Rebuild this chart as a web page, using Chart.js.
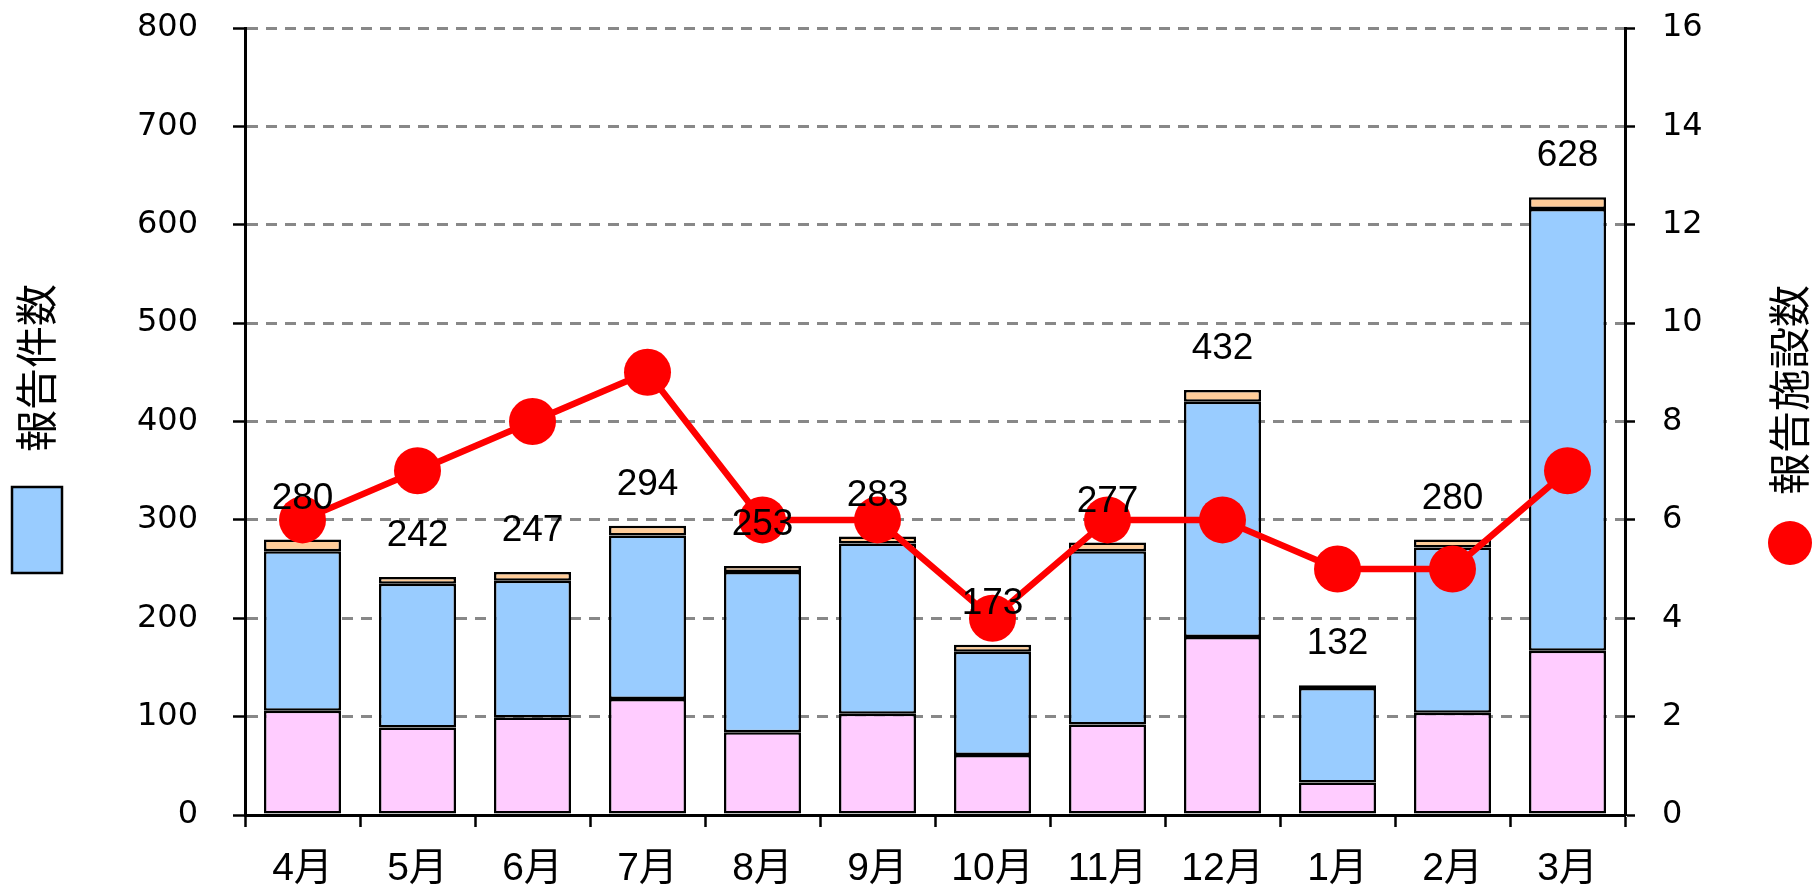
<!DOCTYPE html>
<html lang="ja">
<head>
<meta charset="utf-8">
<title>報告件数・報告施設数</title>
<script src="https://cdn.jsdelivr.net/npm/chart.js@4/dist/chart.umd.min.js"></script>
<style>
  html, body { margin: 0; padding: 0; background: #fff; }
  canvas { display: block; }
</style>
</head>
<body>
<canvas id="c" width="1813" height="886"></canvas>
<script>
// Months of the fiscal year
const months = ['4月', '5月', '6月', '7月', '8月', '9月', '10月', '11月', '12月', '1月', '2月', '3月'];

// Report counts, split into three stacked segments
const segPink   = [106, 89, 99, 118, 84, 103, 61, 92, 181, 33, 104, 167];
const segBlue   = [162, 146, 139, 166, 163, 173, 105, 176, 239, 96, 168, 449];
const segOrange = [12, 7, 9, 10, 6, 7, 7, 9, 12, 3, 8, 12];

// Number of reporting facilities (right axis)
const facilities = [6, 7, 8, 9, 6, 6, 4, 6, 6, 5, 5, 7];

// Axis tick ranges
const leftMax = 800, leftStep = 100;
const rightMax = 16, rightStep = 2;

const totals = months.map((_, i) => segPink[i] + segBlue[i] + segOrange[i]);

const NUM_FONT = "'Liberation Sans', 'Noto Sans CJK JP', sans-serif";
const TICK_FONT = "'DejaVu Sans', sans-serif";
const JP_FONT = "'Noto Sans CJK JP', sans-serif";

// Total count written above each stacked bar
const totalLabels = {
  id: 'totalLabels',
  afterDatasetsDraw(chart) {
    const { ctx, scales: { x, y } } = chart;
    ctx.save();
    ctx.font = '37px ' + NUM_FONT;
    ctx.fillStyle = '#000';
    ctx.textAlign = 'center';
    ctx.textBaseline = 'alphabetic';
    totals.forEach((t, i) => {
      ctx.fillText(String(t), x.getPixelForValue(i), y.getPixelForValue(t) - 31);
    });
    ctx.restore();
  }
};

// Vertical axis titles with their series markers
const axisTitles = {
  id: 'axisTitles',
  afterDraw(chart) {
    const ctx = chart.ctx;
    ctx.save();
    ctx.fillStyle = '#000';
    ctx.font = '42px ' + JP_FONT;
    ctx.textAlign = 'center';
    ctx.textBaseline = 'middle';

    ctx.save();
    ctx.translate(36, 368);
    ctx.rotate(-Math.PI / 2);
    ctx.fillText('報告件数', 0, 0);
    ctx.restore();

    ctx.save();
    ctx.translate(1789, 390);
    ctx.rotate(-Math.PI / 2);
    ctx.fillText('報告施設数', 0, 0);
    ctx.restore();

    // bar marker
    ctx.fillStyle = '#99CCFF';
    ctx.fillRect(12, 487, 50, 86);
    ctx.lineWidth = 2.5;
    ctx.strokeStyle = '#000';
    ctx.strokeRect(12, 487, 50, 86);

    // point marker
    ctx.fillStyle = '#FF0000';
    ctx.beginPath();
    ctx.arc(1790, 543, 22, 0, Math.PI * 2);
    ctx.fill();
    ctx.restore();
  }
};

const barCommon = {
  type: 'bar',
  yAxisID: 'y',
  stack: 'count',
  borderColor: '#000',
  borderWidth: 2.5,
  borderSkipped: false,
  categoryPercentage: 1.0,
  barPercentage: 0.67,
  order: 1
};

// fixed side widths so the plot area spans x 245..1625, y 28..815
function fixVertical(width) {
  return (scale) => {
    scale.width = width;
    scale.paddingTop = 0;
    scale.paddingBottom = 0;
  };
}

new Chart(document.getElementById('c'), {
  data: {
    labels: months,
    datasets: [
      {
        type: 'line',
        label: '報告施設数',
        data: facilities,
        yAxisID: 'y2',
        borderColor: '#FF0000',
        backgroundColor: '#FF0000',
        borderWidth: 6.5,
        pointRadius: 23.5,
        pointBackgroundColor: '#FF0000',
        pointBorderWidth: 0,
        tension: 0,
        order: 0
      },
      Object.assign({}, barCommon, { label: 'A', data: segPink, backgroundColor: '#FFCCFF' }),
      Object.assign({}, barCommon, { label: '報告件数', data: segBlue, backgroundColor: '#99CCFF' }),
      Object.assign({}, barCommon, { label: 'C', data: segOrange, backgroundColor: '#FFCC99' })
    ]
  },
  options: {
    responsive: false,
    animation: false,
    layout: { padding: { top: 28, left: 0, right: 0, bottom: 0 } },
    plugins: {
      legend: { display: false },
      tooltip: { enabled: false }
    },
    scales: {
      x: {
        stacked: true,
        offset: true,
        grid: {
          offset: true,
          drawOnChartArea: false,
          drawTicks: true,
          tickLength: 12,
          tickColor: '#000',
          tickWidth: 2.5
        },
        border: { display: true, color: '#000', width: 3 },
        ticks: {
          color: '#000',
          font: { family: NUM_FONT, size: 39 },
          padding: 19,
          maxRotation: 0
        },
        afterFit(scale) {
          scale.height = 71;
          scale.paddingLeft = 0;
          scale.paddingRight = 0;
        }
      },
      y: {
        position: 'left',
        stacked: true,
        min: 0,
        max: leftMax,
        ticks: {
          stepSize: leftStep,
          color: '#000',
          font: { family: TICK_FONT, size: 32 },
          padding: 35
        },
        grid: {
          color: (c) => (c.tick && c.tick.value === 0 ? 'rgba(0,0,0,0)' : '#888888'),
          lineWidth: 3,
          drawTicks: true,
          tickLength: 12,
          tickColor: '#000',
          tickWidth: 2.5
        },
        border: { display: true, color: '#000', width: 3, dash: [11, 8] },
        afterFit: fixVertical(245)
      },
      y2: {
        position: 'right',
        min: 0,
        max: rightMax,
        ticks: {
          stepSize: rightStep,
          color: '#000',
          font: { family: TICK_FONT, size: 32 },
          padding: 27
        },
        grid: {
          drawOnChartArea: false,
          drawTicks: true,
          tickLength: 10,
          tickColor: '#000',
          tickWidth: 2.5
        },
        border: { display: true, color: '#000', width: 3 },
        afterFit: fixVertical(188)
      }
    }
  },
  plugins: [totalLabels, axisTitles]
});
</script>
</body>
</html>
